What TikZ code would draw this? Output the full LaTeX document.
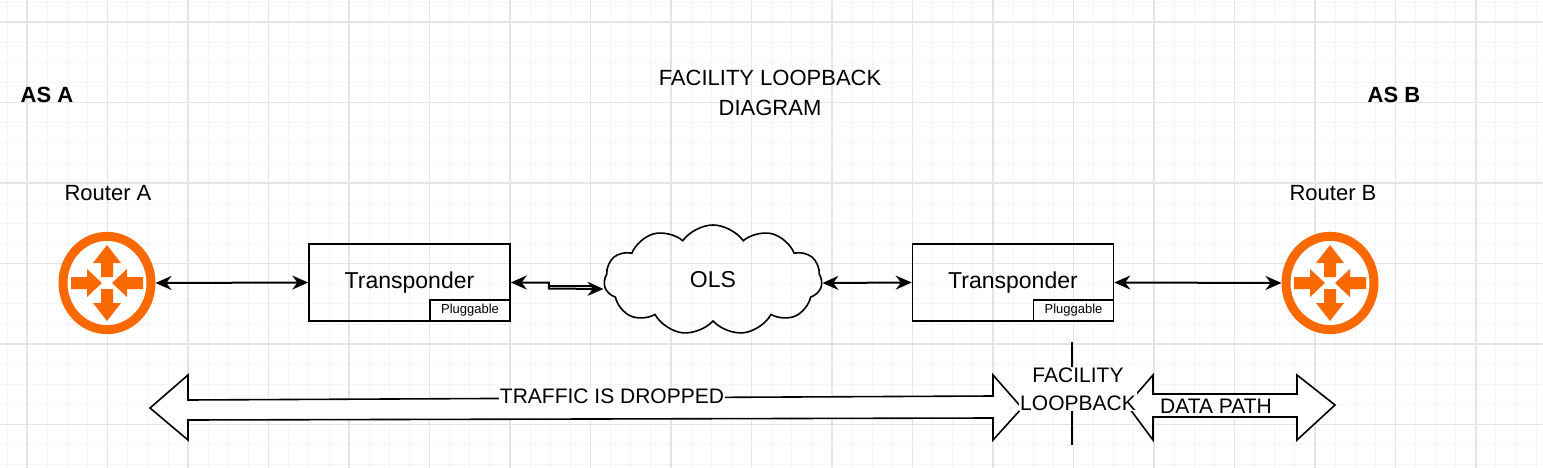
\documentclass[tikz,border=0pt]{standalone}
\usepackage{fontspec}
\setmainfont{Liberation Sans}
\usetikzlibrary{shapes.symbols,arrows.meta}
\definecolor{routerorange}{HTML}{FA6800}
\definecolor{gridmaj}{HTML}{E4E4E4}
\definecolor{gridmin}{HTML}{F5F5F5}
\tikzset{
  lbl/.style={inner sep=1pt,font=\fontsize{22}{25}\selectfont},
  box/.style={draw,line width=1.6pt,minimum width=201pt,minimum height=77pt,inner sep=0pt,font=\fontsize{23}{27}\selectfont},
  plug/.style={draw,line width=1.6pt,minimum width=80pt,minimum height=21pt,inner sep=0pt,font=\fontsize{13}{14}\selectfont},
  link/.style={line width=2pt,{Stealth[length=16pt,width=14pt]}-{Stealth[length=16pt,width=14pt]}},
  fat/.style={draw,line width=1.6pt,fill=white,line join=miter},
  router/.style={circle,draw=routerorange,line width=9pt,fill=white,minimum width=88pt,inner sep=0pt,yscale=1.06},
}
\newcommand{\routerarrows}[2]{%
  \begin{scope}[shift={(#1,#2)},fill=routerorange]
    % up, down, left-in, right-in
    \fill (-6,-6) -- (-6,-20) -- (-14,-20) -- (0,-38) -- (14,-20) -- (6,-20) -- (6,-6) -- cycle;
    \fill (-6,6) -- (-6,20) -- (-14,20) -- (0,38) -- (14,20) -- (6,20) -- (6,6) -- cycle;
    \fill (-36,-6) -- (-20,-6) -- (-20,-14) -- (-5,0) -- (-20,14) -- (-20,6) -- (-36,6) -- cycle;
    \fill (36,-6) -- (20,-6) -- (20,-14) -- (5,0) -- (20,14) -- (20,6) -- (36,6) -- cycle;
  \end{scope}}
\begin{document}
\begin{tikzpicture}[x=1pt,y=-1pt]

\useasboundingbox (0,0) rectangle (1543,468);

% grille
\foreach \i in {0,...,77} \draw[gridmin,line width=0.8pt] (7+20.12*\i,0) -- (7+20.12*\i,468);
\foreach \i in {0,...,23} \draw[gridmin,line width=0.8pt] (0,2+20.12*\i) -- (1543,2+20.12*\i);
\foreach \i in {0,...,19} \draw[gridmaj,line width=1.4pt] (27+80.5*\i,0) -- (27+80.5*\i,468);
\foreach \i in {0,...,5} \draw[gridmaj,line width=1.4pt] (0,22+80.5*\i) -- (1543,22+80.5*\i);

% titres
\node[lbl,font=\bfseries\fontsize{22}{25}\selectfont] (asa) at (47,95) {AS A};
\node[lbl,font=\bfseries\fontsize{22}{25}\selectfont] (asb) at (1394,95) {AS B};
\node[lbl,align=center,font=\fontsize{22}{30}\selectfont] (title) at (770,93) {FACILITY LOOPBACK\\DIAGRAM};
\node[lbl] (lbla) at (108,193) {Router A};
\node[lbl] (lblb) at (1333,193) {Router B};

% routeurs
\node[router] (rta) at (107,283) {};
\routerarrows{107}{283}
\node[router] (rtb) at (1330,283) {};
\routerarrows{1330}{283}

% transpondeurs
\node[box] (tpa) at (409.5,282.5) {Transponder};
\node[plug,anchor=south east] (pga) at (tpa.south east) {Pluggable};
\node[box] (tpb) at (1013,282.5) {Transponder};
\node[plug,anchor=south east] (pgb) at (tpb.south east) {Pluggable};

% nuage
\node[cloud,draw,line width=1.6pt,cloud puffs=11,cloud puff arc=110,aspect=2,minimum width=218pt,minimum height=110pt,inner sep=0pt,font=\fontsize{23}{27}\selectfont] (ols) at (713,280) {OLS};

% liaisons
\draw[link] (rta.east) -- (tpa.west);
\draw[link] (tpa.east) -- ++(38,0) -- ++(0,6) -- (ols.west|-0,289) ;
\draw[line width=1.6pt] (548,286) -- (594,286);
\draw[link] (ols.east|-0,283) -- (tpb.west);
\draw[link] (tpb.east) -- (rtb.west);

% grosses flèches
\draw[fat] (150,408) -- (188,375) -- (188,400) -- (993,396) -- (993,375) -- (1022,408)
  -- (993,440) -- (993,418) -- (188,420) -- (188,440) -- cycle;
\draw[fat] (1127,405) -- (1153,375) -- (1153,394) -- (1297,394) -- (1297,375) -- (1335,405)
  -- (1297,440) -- (1297,417) -- (1153,417) -- (1153,440) -- cycle;
\coordinate (cuttop) at (1072,342);
\coordinate (cutbot) at (1072,445);
\draw[line width=1.6pt] (cuttop) -- (cutbot);

\node[lbl,fill=white,font=\fontsize{21}{24}\selectfont] (drop) at (612,396) {TRAFFIC IS DROPPED};
\node[lbl,fill=white,align=center,font=\fontsize{21}{28}\selectfont] (loop) at (1078,389) {FACILITY\\LOOPBACK};
\node[lbl,fill=white,font=\fontsize{21}{24}\selectfont] (path) at (1216,406) {DATA PATH};

\end{tikzpicture}
\end{document}
